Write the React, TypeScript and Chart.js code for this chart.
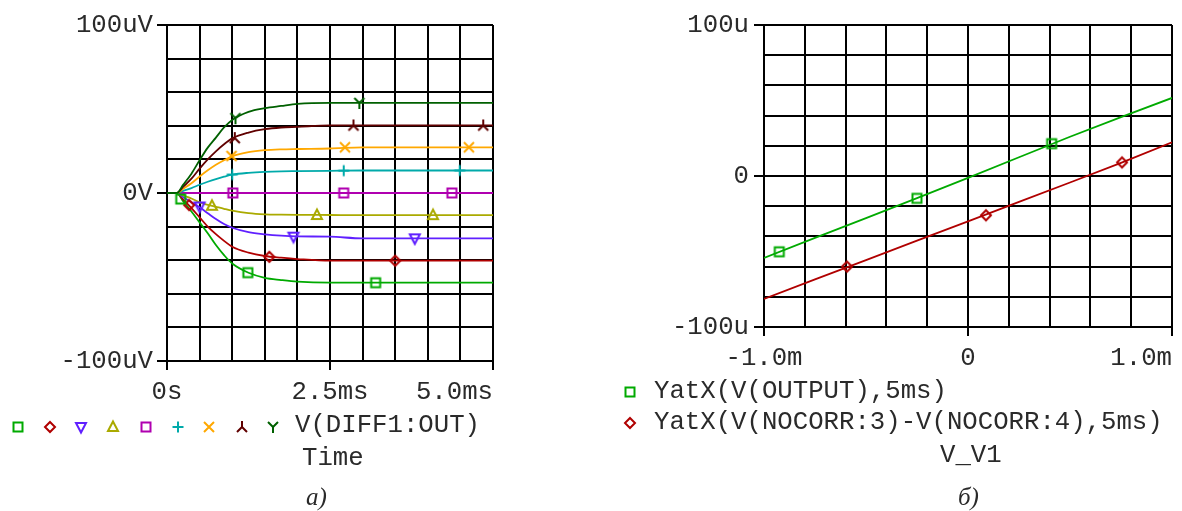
import React, { useEffect, useRef } from 'react';
import { Chart, registerables } from 'chart.js';

Chart.register(...registerables);

// ---------- Data: panel a) (transient, V(DIFF1:OUT) vs Time, ms / uV) ----------
const timeMs = [0, 0.15, 0.25, 0.375, 0.5, 0.625, 0.75, 0.875, 1.0, 1.25, 1.5, 1.75, 2.0, 2.5, 3.0, 5.0];
const traceGreen = [0, 0, -5, -11, -17.5, -24, -31, -37, -42, -47.5, -50.5, -51.8, -52.8, -53.4, -53.4, -53.4];
const traceRed = [0, 0, -4, -9, -14.5, -20, -24.5, -28.5, -32, -35.5, -37.5, -38.5, -39.3, -40.3, -40.3, -40.3];
const traceBlue = [0, 0, -2.5, -5.5, -8.5, -12, -15.5, -18.5, -20.7, -23.3, -24.6, -25.4, -25.8, -26, -27, -27];
const traceOlive = [0, 0, -1.5, -3.3, -5.6, -7, -8.2, -9.4, -10.5, -12, -12.7, -12.9, -13, -13.1, -13.2, -13.2];
const tracePurple = [0, 0, 0, 0, 0, 0, 0, 0, 0, 0, 0, 0, 0, 0, 0, 0];
const traceCyan = [0, 0, 1.3, 2.9, 4.9, 6.7, 8.3, 9.7, 10.9, 12.0, 12.6, 12.9, 13.0, 13.2, 13.4, 13.4];
const traceOrange = [0, 0, 2.5, 5.8, 9.8, 13.5, 16.8, 19.5, 21.8, 24.3, 25.5, 26, 26.2, 26.5, 27.2, 27.2];
const traceDarkRed = [0, 0, 3.8, 8.5, 14.5, 20, 24.8, 29, 32.5, 36, 38, 39, 39.4, 40.2, 40.2, 40.2];
const traceDarkGreen = [0, 0, 5, 11.5, 19.5, 27, 33, 39, 43.5, 48.3, 50.5, 51.8, 53, 53.6, 53.6, 53.6];

// marker positions along each trace: [time ms, value uV]
const markGreen = [[0.21, -3.6], [1.24, -47.4], [3.2, -53.4]];
const markRed = [[0.34, -7.2], [1.57, -38], [3.5, -40.3]];
const markBlue = [[0.5, -8], [1.94, -26], [3.8, -27]];
const markOlive = [[0.69, -7.6], [2.3, -13.1], [4.08, -13.2]];
const markPurple = [[1.01, 0], [2.71, 0], [4.37, 0]];
const markCyan = [[1.0, 11], [2.71, 13.3], [4.49, 13.4]];
const markOrange = [[0.99, 22], [2.73, 27.2], [4.63, 27.2]];
const markDarkRed = [[1.04, 32.7], [2.86, 40.2], [4.85, 40.2]];
const markDarkGreen = [[1.05, 44.5], [2.95, 53.6]];

const xTickLabelsA: [number, string][] = [[0, '0s'], [2.5, '2.5ms'], [5, '5.0ms     ']];
const yTickLabelsA: [number, string][] = [[100, '100uV'], [0, '0V'], [-100, '-100uV']];

// ---------- Data: panel б) (DC sweep, V_V1 in mV / uV) ----------
const vV1 = [-1, -0.75, -0.5, -0.25, 0, 0.25, 0.5, 0.75, 1];
const yOutput = [-54.2, -41.0, -27.9, -14.7, -1.2, 12.4, 26.0, 39.0, 51.7];
const yNocorr = [-81.4, -68.5, -55.7, -42.8, -30.0, -17.1, -4.3, 8.7, 22.3];
const markOutput = [[-0.925, -50.2], [-0.25, -14.8], [0.41, 21.4]];
const markNocorr = [[-0.593, -60], [0.088, -26], [0.755, 9.0]];

const xTickLabelsB: [number, string][] = [[-1, '-1.0m'], [0, '0'], [1, '1.0m    ']];
const yTickLabelsB: [number, string][] = [[100, '100u'], [0, '0'], [-100, '-100u']];

// ---------- Styling ----------
const MONO = "'Liberation Mono', 'DejaVu Sans Mono', monospace";
const FS = 25.7;
const TXT = '#2a2a2a';
const GRID = '#000';

type Sym = 'square' | 'diamond' | 'triUp' | 'triDown' | 'plus' | 'x' | 'lambda' | 'Y';

function makeSymbol(sym: Sym, color: string): HTMLCanvasElement {
  const S = 16;
  const c = S / 2;
  const cv = document.createElement('canvas');
  cv.width = S;
  cv.height = S;
  const g = cv.getContext('2d')!;
  g.strokeStyle = color;
  g.lineWidth = 2;
  g.beginPath();
  switch (sym) {
    case 'square':
      g.rect(c - 4.5, c - 4.5, 9, 9);
      break;
    case 'diamond':
      g.moveTo(c, c - 5); g.lineTo(c + 5, c); g.lineTo(c, c + 5); g.lineTo(c - 5, c); g.closePath();
      break;
    case 'triUp':
      g.moveTo(c, c - 5.5); g.lineTo(c + 5, c + 4); g.lineTo(c - 5, c + 4); g.closePath();
      break;
    case 'triDown':
      g.moveTo(c - 5, c - 4); g.lineTo(c + 5, c - 4); g.lineTo(c, c + 5.5); g.closePath();
      break;
    case 'plus':
      g.moveTo(c - 5.5, c); g.lineTo(c + 5.5, c); g.moveTo(c, c - 5.5); g.lineTo(c, c + 5.5);
      break;
    case 'x':
      g.moveTo(c - 5, c - 5); g.lineTo(c + 5, c + 5); g.moveTo(c + 5, c - 5); g.lineTo(c - 5, c + 5);
      break;
    case 'lambda':
      g.moveTo(c, c); g.lineTo(c, c - 6); g.moveTo(c, c); g.lineTo(c - 5, c + 5); g.moveTo(c, c); g.lineTo(c + 5, c + 5);
      break;
    case 'Y':
      g.moveTo(c, c); g.lineTo(c, c + 6); g.moveTo(c, c); g.lineTo(c - 5, c - 5); g.moveTo(c, c); g.lineTo(c + 5, c - 5);
      break;
  }
  g.stroke();
  return cv;
}

const seriesA = [
  { values: traceGreen, marks: markGreen, color: '#00aa00', sym: 'square' as Sym },
  { values: traceRed, marks: markRed, color: '#b00000', sym: 'diamond' as Sym },
  { values: traceBlue, marks: markBlue, color: '#6020ff', sym: 'triDown' as Sym },
  { values: traceOlive, marks: markOlive, color: '#aaaa00', sym: 'triUp' as Sym },
  { values: tracePurple, marks: markPurple, color: '#b000b0', sym: 'square' as Sym },
  { values: traceCyan, marks: markCyan, color: '#00aaaa', sym: 'plus' as Sym },
  { values: traceOrange, marks: markOrange, color: '#ffa800', sym: 'x' as Sym },
  { values: traceDarkRed, marks: markDarkRed, color: '#600000', sym: 'lambda' as Sym },
  { values: traceDarkGreen, marks: markDarkGreen, color: '#006000', sym: 'Y' as Sym },
];
const legendXsA = [18, 50, 81, 113, 146, 178, 209, 242, 273];

const seriesB = [
  { x: vV1, y: yOutput, marks: markOutput, color: '#00aa00', sym: 'square' as Sym },
  { x: vV1, y: yNocorr, marks: markNocorr, color: '#b00000', sym: 'diamond' as Sym },
];

function near(v: number, t: number) {
  return Math.abs(v - t) < 1e-6;
}
function labelFor(list: [number, string][], v: number) {
  for (const [t, s] of list) if (near(v, t)) return s;
  return '';
}

function axes(
  xMin: number, xMax: number, xStep: number, xLabels: [number, string][],
  yLabels: [number, string][], yPad: number, yWidth: number
) {
  const tickCol = (list: [number, string][]) => (ctx: any) =>
    ctx.tick && labelFor(list, ctx.tick.value) !== '' ? GRID : 'rgba(0,0,0,0)';
  return {
    x: {
      type: 'linear' as const,
      min: xMin,
      max: xMax,
      ticks: {
        stepSize: xStep,
        autoSkip: false,
        maxRotation: 0,
        minRotation: 0,
        padding: 7,
        color: TXT,
        font: { family: MONO, size: FS },
        callback: (v: any) => labelFor(xLabels, Number(v)),
      },
      grid: { color: GRID, lineWidth: 2, tickLength: 9, tickColor: tickCol(xLabels), tickWidth: 2 },
      border: { color: GRID, width: 2 },
      afterFit: (s: any) => {
        s.height = 50;
        s.paddingLeft = 0;
        s.paddingRight = 0;
      },
    },
    y: {
      type: 'linear' as const,
      min: -100,
      max: 100,
      ticks: {
        stepSize: 20,
        autoSkip: false,
        padding: yPad,
        color: TXT,
        font: { family: MONO, size: FS },
        callback: (v: any) => labelFor(yLabels, Number(v)),
      },
      grid: { color: GRID, lineWidth: 2, tickLength: 10, tickColor: tickCol(yLabels), tickWidth: 2 },
      border: { color: GRID, width: 2 },
      afterFit: (s: any) => {
        s.width = yWidth;
      },
    },
  };
}

function Label(props: { text: string; left: number; top: number; size?: number; serif?: boolean }) {
  const size = props.size ?? FS;
  return (
    <div
      style={{
        position: 'absolute',
        left: props.left,
        top: props.top,
        fontFamily: props.serif ? "'Liberation Serif', 'DejaVu Serif', serif" : MONO,
        fontStyle: props.serif ? 'italic' : 'normal',
        fontSize: size,
        lineHeight: `${size}px`,
        whiteSpace: 'pre',
        color: TXT,
      }}
    >
      {props.text}
    </div>
  );
}

export default function App() {
  const refA = useRef<HTMLCanvasElement>(null);
  const refB = useRef<HTMLCanvasElement>(null);

  useEffect(() => {
    const symsA = seriesA.map((s) => makeSymbol(s.sym, s.color));
    const symsB = seriesB.map((s) => makeSymbol(s.sym, s.color));

    const dsA: any[] = [];
    seriesA.forEach((s, i) => {
      dsA.push({
        data: timeMs.map((t, k) => ({ x: t, y: s.values[k] })),
        showLine: true,
        borderColor: s.color,
        borderWidth: 1.8,
        pointRadius: 0,
        cubicInterpolationMode: 'monotone',
        fill: false,
        order: 20 - i,
      });
    });
    seriesA.forEach((s, i) => {
      dsA.push({
        data: s.marks.map(([t, v]) => ({ x: t, y: v })),
        showLine: false,
        pointStyle: symsA[i],
        pointRadius: 6,
        borderColor: s.color,
        backgroundColor: 'rgba(0,0,0,0)',
        order: 1,
      });
    });

    const legendA = {
      id: 'legendA',
      afterDraw(chart: any) {
        const ctx = chart.ctx;
        symsA.forEach((cv, i) => {
          ctx.drawImage(cv, legendXsA[i] - cv.width / 2, 427 - cv.height / 2);
        });
      },
    };

    // plot area A: left 167, right 493, top 25, bottom 361 (canvas 560x511)
    const chartA = new Chart(refA.current!, {
      type: 'scatter',
      data: { datasets: dsA },
      options: {
        animation: false,
        responsive: false,
        maintainAspectRatio: false,
        devicePixelRatio: 1,
        layout: { padding: { left: 57, right: 67, top: 25, bottom: 100 } },
        plugins: { legend: { display: false }, tooltip: { enabled: false } },
        events: [],
        scales: axes(0, 5, 0.5, xTickLabelsA, yTickLabelsA, 4, 110) as any,
      },
      plugins: [legendA],
    });

    const dsB: any[] = [];
    seriesB.forEach((s, i) => {
      dsB.push({
        data: s.x.map((x, k) => ({ x, y: s.y[k] })),
        showLine: true,
        borderColor: s.color,
        borderWidth: 1.8,
        pointRadius: 0,
        fill: false,
        order: 10 - i,
      });
    });
    seriesB.forEach((s, i) => {
      dsB.push({
        data: s.marks.map(([x, y]) => ({ x, y })),
        showLine: false,
        pointStyle: symsB[i],
        pointRadius: 6,
        borderColor: s.color,
        backgroundColor: 'rgba(0,0,0,0)',
        order: 1,
      });
    });

    const legendB = {
      id: 'legendB',
      afterDraw(chart: any) {
        const ctx = chart.ctx;
        const ys = [392, 423];
        symsB.forEach((cv, i) => {
          ctx.drawImage(cv, 50 - cv.width / 2, ys[i] - cv.height / 2);
        });
      },
    };

    // plot area B: page left 764, right 1172, top 25, bottom 327 (canvas at x=580, 602x511)
    const chartB = new Chart(refB.current!, {
      type: 'scatter',
      data: { datasets: dsB },
      options: {
        animation: false,
        responsive: false,
        maintainAspectRatio: false,
        devicePixelRatio: 1,
        layout: { padding: { left: 84, right: 10, top: 25, bottom: 134 } },
        plugins: { legend: { display: false }, tooltip: { enabled: false } },
        events: [],
        scales: axes(-1, 1, 0.2, xTickLabelsB, yTickLabelsB, 5, 100) as any,
      },
      plugins: [legendB],
    });

    return () => {
      chartA.destroy();
      chartB.destroy();
    };
  }, []);

  return (
    <div style={{ position: 'absolute', left: 0, top: 0, width: 1182, height: 511, background: '#fff', overflow: 'hidden' }}>
      <canvas ref={refA} width={560} height={511} style={{ position: 'absolute', left: 0, top: 0, width: 560, height: 511 }} />
      <canvas ref={refB} width={602} height={511} style={{ position: 'absolute', left: 580, top: 0, width: 602, height: 511 }} />
      <Label text="V(DIFF1:OUT)" left={295} top={413} />
      <Label text="Time" left={302} top={446} />
      <Label text="a)" left={306} top={484} size={25} serif />
      <Label text="YatX(V(OUTPUT),5ms)" left={654} top={379} />
      <Label text="YatX(V(NOCORR:3)-V(NOCORR:4),5ms)" left={654} top={410} />
      <Label text="V_V1" left={940} top={443} />
      <Label text="б)" left={958} top={484} size={25} serif />
    </div>
  );
}
